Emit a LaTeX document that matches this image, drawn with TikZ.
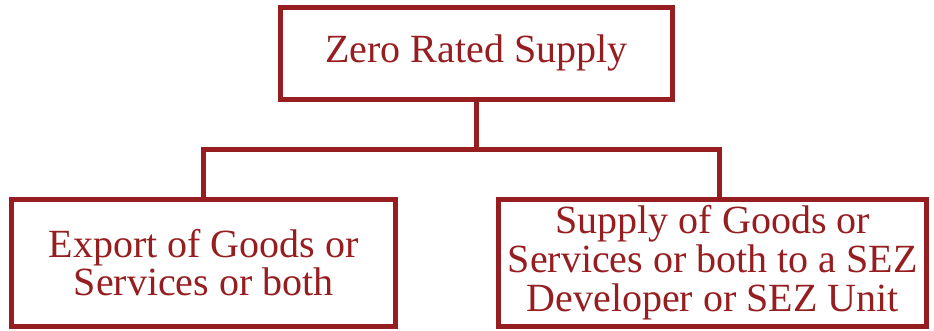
\documentclass[tikz,border=0pt]{standalone}
\usepackage{fontspec}
\setmainfont{Liberation Serif}
\usepackage{xcolor}
\usetikzlibrary{positioning}
\definecolor{zrred}{RGB}{150,30,32}

\begin{document}
\begin{tikzpicture}[x=0.75pt, y=-0.75pt]
\tikzstyle{every node}=[font=\fontsize{30}{29}\selectfont]
\tikzstyle{supplybox}=[draw=zrred, line width=3.75pt, text=zrred, align=center, inner sep=0pt, fill=white]
\useasboundingbox (0,0) rectangle (934,330);

\node[supplybox, minimum width=294pt, minimum height=69pt] (zrs) at (476.25,53.25) {Zero Rated Supply};
\node[supplybox, minimum width=288pt, minimum height=95pt] (exp) at (203.75,262.75) {Export of Goods or\\Services or both};
\node[supplybox, minimum width=321pt, minimum height=95pt] (sez) at (712.75,262.75) {Supply of Goods or\\Services or both to a SEZ\\Developer or SEZ Unit};

\coordinate (split) at (476.25,149);
\draw[zrred, line width=3.75pt] (zrs.south) -- (split);
\draw[zrred, line width=3.75pt] (exp.north) |- (split) -| ([xshift=5pt]sez.north);
\end{tikzpicture}
\end{document}
